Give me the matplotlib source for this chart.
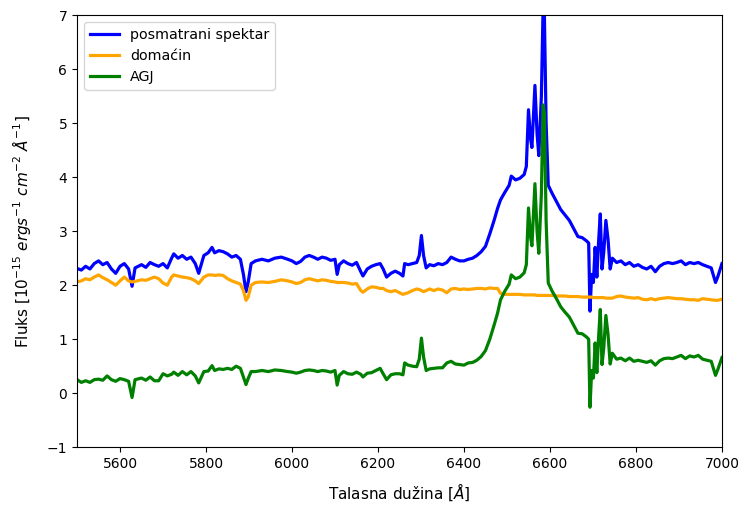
import matplotlib
matplotlib.use("Agg")
import matplotlib.pyplot as plt

wavelength = [5500, 5510, 5520, 5530, 5540, 5550, 5560, 5570, 5580, 5590,
              5600, 5610, 5620, 5628, 5635, 5650, 5660, 5670, 5680, 5690,
              5700, 5710, 5720, 5725, 5735, 5745, 5755, 5765, 5775, 5783,
              5795, 5805, 5814, 5820, 5830, 5840, 5850, 5860, 5870, 5880,
              5887, 5893, 5898, 5905, 5915, 5930, 5945, 5960, 5975, 5990,
              6000, 6010, 6020, 6030, 6040, 6050, 6060, 6070, 6080, 6090,
              6100, 6105, 6110, 6120, 6130, 6140, 6150, 6160, 6165, 6175,
              6185, 6195, 6205, 6212, 6220, 6230, 6240, 6250, 6258, 6262,
              6270, 6280, 6290, 6296, 6301, 6306, 6312, 6320, 6330, 6340,
              6350, 6360, 6370, 6380, 6390, 6400, 6410, 6420, 6430, 6440,
              6450, 6460, 6470, 6478, 6485, 6495, 6505, 6510, 6520, 6530,
              6540, 6545, 6550, 6555, 6558, 6565, 6570, 6574, 6580, 6584,
              6587, 6591, 6596, 6605, 6615, 6625, 6635, 6645, 6655, 6665,
              6675, 6685, 6690, 6693, 6697, 6701, 6705, 6709, 6713, 6717,
              6721, 6725, 6730, 6735, 6740, 6745, 6755, 6765, 6775, 6785,
              6795, 6805, 6815, 6825, 6835, 6845, 6855, 6865, 6875, 6885,
              6895, 6905, 6915, 6925, 6935, 6945, 6955, 6965, 6975, 6985,
              6990, 7000]

observed = [2.31, 2.28, 2.35, 2.30, 2.40, 2.45, 2.38, 2.42, 2.30, 2.22,
            2.35, 2.40, 2.30, 1.98, 2.32, 2.38, 2.33, 2.42, 2.38, 2.35,
            2.40, 2.32, 2.50, 2.58, 2.50, 2.55, 2.48, 2.52, 2.40, 2.22,
            2.55, 2.60, 2.70, 2.60, 2.64, 2.62, 2.58, 2.52, 2.55, 2.48,
            2.20, 1.88, 2.05, 2.40, 2.45, 2.48, 2.45, 2.50, 2.52, 2.48,
            2.45, 2.40, 2.44, 2.52, 2.55, 2.52, 2.48, 2.52, 2.50, 2.46,
            2.48, 2.20, 2.38, 2.45, 2.40, 2.37, 2.42, 2.25, 2.17, 2.30,
            2.35, 2.38, 2.40, 2.30, 2.15, 2.22, 2.26, 2.22, 2.17, 2.40,
            2.38, 2.40, 2.42, 2.55, 2.92, 2.55, 2.32, 2.38, 2.36, 2.40,
            2.38, 2.42, 2.52, 2.48, 2.45, 2.45, 2.48, 2.50, 2.55, 2.62,
            2.72, 2.95, 3.20, 3.42, 3.58, 3.72, 3.85, 4.02, 3.95, 3.98,
            4.05, 4.20, 5.25, 4.70, 4.55, 5.70, 4.80, 4.40, 5.50, 7.15,
            7.00, 5.00, 3.85, 3.70, 3.55, 3.40, 3.30, 3.20, 3.05, 2.90,
            2.88, 2.82, 2.78, 1.52, 2.20, 2.05, 2.70, 2.15, 2.80, 3.32,
            2.30, 2.60, 3.20, 2.85, 2.30, 2.50, 2.42, 2.45, 2.38, 2.42,
            2.35, 2.38, 2.33, 2.30, 2.35, 2.25, 2.35, 2.40, 2.42, 2.40,
            2.42, 2.45, 2.38, 2.42, 2.40, 2.42, 2.38, 2.35, 2.32, 2.05,
            2.15, 2.40]

host = [2.06, 2.08, 2.12, 2.10, 2.15, 2.19, 2.14, 2.10, 2.05, 2.00,
        2.08, 2.15, 2.08, 2.06, 2.07, 2.10, 2.09, 2.12, 2.15, 2.12,
        2.04, 2.00, 2.15, 2.19, 2.17, 2.15, 2.14, 2.12, 2.08, 2.03,
        2.15, 2.19, 2.19, 2.18, 2.19, 2.18, 2.12, 2.08, 2.05, 2.02,
        1.90, 1.72, 1.78, 2.00, 2.05, 2.06, 2.05, 2.07, 2.10, 2.08,
        2.06, 2.03, 2.05, 2.10, 2.12, 2.10, 2.08, 2.10, 2.09, 2.07,
        2.06, 2.05, 2.05, 2.05, 2.04, 2.02, 2.03, 1.90, 1.87, 1.93,
        1.97, 1.96, 1.94, 1.94, 1.90, 1.88, 1.90, 1.86, 1.83, 1.84,
        1.86, 1.90, 1.93, 1.92, 1.90, 1.88, 1.90, 1.93, 1.90, 1.93,
        1.91, 1.86, 1.93, 1.94, 1.92, 1.93, 1.92, 1.93, 1.94, 1.94,
        1.93, 1.95, 1.94, 1.94, 1.85, 1.83, 1.83, 1.83, 1.83, 1.83,
        1.82, 1.82, 1.82, 1.82, 1.82, 1.82, 1.81, 1.81, 1.81, 1.81,
        1.81, 1.81, 1.81, 1.81, 1.80, 1.80, 1.80, 1.79, 1.79, 1.79,
        1.78, 1.78, 1.78, 1.78, 1.78, 1.77, 1.77, 1.77, 1.77, 1.77,
        1.77, 1.77, 1.76, 1.76, 1.76, 1.76, 1.79, 1.80, 1.78, 1.77,
        1.76, 1.77, 1.74, 1.73, 1.75, 1.73, 1.75, 1.76, 1.77, 1.76,
        1.75, 1.75, 1.74, 1.73, 1.73, 1.72, 1.75, 1.74, 1.73, 1.72,
        1.72, 1.74]

agn = [0.25, 0.20, 0.23, 0.20, 0.25, 0.26, 0.24, 0.32, 0.25, 0.22,
       0.27, 0.25, 0.22, -0.08, 0.25, 0.28, 0.24, 0.30, 0.23, 0.23,
       0.36, 0.32, 0.35, 0.39, 0.33, 0.40, 0.34, 0.40, 0.32, 0.19,
       0.40, 0.41, 0.51, 0.42, 0.45, 0.44, 0.46, 0.44, 0.50, 0.46,
       0.30, 0.16, 0.27, 0.40, 0.40, 0.42, 0.40, 0.43, 0.42, 0.40,
       0.39, 0.37, 0.39, 0.42, 0.43, 0.42, 0.40, 0.42, 0.41, 0.39,
       0.42, 0.15, 0.33, 0.40, 0.36, 0.35, 0.39, 0.35, 0.30, 0.37,
       0.38, 0.42, 0.46, 0.36, 0.25, 0.34, 0.36, 0.36, 0.34, 0.56,
       0.52, 0.50, 0.49, 0.63, 1.02, 0.67, 0.42, 0.45, 0.46, 0.47,
       0.47, 0.56, 0.59, 0.54, 0.53, 0.52, 0.56, 0.57, 0.61, 0.68,
       0.79, 1.00, 1.26, 1.48, 1.73, 1.89, 2.02, 2.19, 2.12, 2.15,
       2.23, 2.38, 3.43, 2.88, 2.73, 3.88, 2.99, 2.59, 3.69, 5.34,
       5.19, 3.19, 2.04, 1.89, 1.75, 1.60, 1.50, 1.41, 1.26, 1.11,
       1.10, 1.04, 1.00, -0.26, 0.42, 0.28, 0.93, 0.38, 1.03, 1.55,
       0.53, 0.83, 1.44, 1.09, 0.54, 0.74, 0.63, 0.65, 0.60, 0.65,
       0.59, 0.61, 0.59, 0.57, 0.60, 0.52, 0.60, 0.64, 0.65, 0.64,
       0.67, 0.70, 0.64, 0.69, 0.67, 0.70, 0.63, 0.61, 0.59, 0.33,
       0.43, 0.66]

xticks = [5600, 5800, 6000, 6200, 6400, 6600, 6800, 7000]
yticks = [-1, 0, 1, 2, 3, 4, 5, 6, 7]

fig = plt.figure(figsize=(7.42, 5.07), dpi=100)
ax = fig.add_axes([0.1038, 0.118, 0.8692, 0.852])

ax.plot(wavelength, observed, color="blue", lw=2.3, label="posmatrani spektar")
ax.plot(wavelength, host, color="orange", lw=2.3, label="domaćin")
ax.plot(wavelength, agn, color="green", lw=2.3, label="AGJ")

ax.set_xlim(5500, 7000)
ax.set_ylim(-1, 7)
ax.set_xticks(xticks)
ax.set_yticks(yticks)
ax.tick_params(labelsize=10)
ax.set_xlabel(r"Talasna dužina [$\AA$]", fontsize=11, labelpad=8)
ax.set_ylabel(r"Fluks [$10^{-15}$ $ergs^{-1}$ $cm^{-2}$ $\AA^{-1}$]",
              fontsize=11, labelpad=10)
ax.legend(loc="upper left", fontsize=10.3)

fig.savefig("out.png", dpi=100)
